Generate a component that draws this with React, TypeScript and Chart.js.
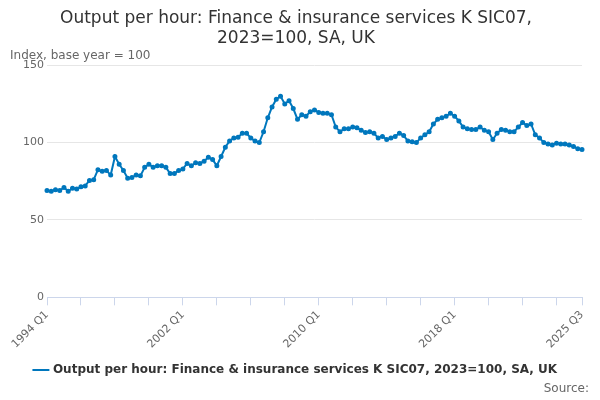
import React, { useEffect, useRef } from "react";
import { Chart, registerables } from "chart.js";
Chart.register(...registerables);

const years: number[] = [];
for (let y = 1994; y <= 2025; y++) years.push(y);
const labels: string[] = [];
years.forEach((y) => [1, 2, 3, 4].forEach((q) => { if (!(y === 2025 && q === 4)) labels.push(`${y} Q${q}`); }));

const values = [
  69, 68.5, 69.5, 69,
  71, 68.5, 70.5, 70,
  71.5, 72, 75.5, 76,
  82.5, 81.5, 82, 79,
  91, 86, 82, 77,
  77.5, 79, 78.5, 84,
  86, 84, 85, 85,
  84, 80, 80, 82,
  83, 86.5, 85, 87,
  86.5, 88, 90.5, 89,
  85, 91, 97, 101,
  103, 103.5, 106, 106,
  103, 101, 100, 107,
  116, 123, 128, 130,
  125, 127, 122, 115,
  118, 117, 120, 121,
  119.5, 119, 119, 118,
  110, 107, 109, 109,
  110, 109.5, 108, 106.5,
  107, 106, 103, 104,
  102, 103, 104, 106,
  104.5, 101, 100.5, 100,
  103, 105, 107, 112,
  115, 116, 117, 119,
  117, 114, 110, 109,
  108.5, 108.5, 110, 108,
  107, 102, 106, 108.5,
  108, 107, 107, 110,
  113, 111, 112, 105,
  103, 100, 99, 98.5,
  99.5, 99, 99, 98.5,
  97.5, 96, 95.5,
];

const seriesName = "Output per hour: Finance & insurance services K SIC07, 2023=100, SA, UK";
const FONT = "'DejaVu Sans', sans-serif";
const COLOR = "#0077bd";

export default function App() {
  const ref = useRef<HTMLCanvasElement>(null);
  useEffect(() => {
    const last = labels.length - 1;
    const chart = new Chart(ref.current!, {
      type: "line",
      data: {
        labels,
        datasets: [{
          label: seriesName, data: values, borderColor: COLOR, backgroundColor: COLOR,
          borderWidth: 2, pointRadius: 1.5, pointHoverRadius: 2, tension: 0,
        }],
      },
      options: {
        animation: false, responsive: false,
        layout: { padding: { left: 10, right: 18, top: 0, bottom: 14 } },
        plugins: {
          title: {
            display: true, text: ["Output per hour: Finance & insurance services K SIC07,", "2023=100, SA, UK"],
            font: { family: FONT, size: 17, weight: "normal" }, color: "#333", padding: { top: 8, bottom: 0 },
          },
          subtitle: {
            display: true, text: "Index, base year = 100", align: "start",
            font: { family: FONT, size: 12 }, color: "#666", padding: { top: 0, bottom: 2 },
          },
          legend: {
            position: "bottom",
            labels: { font: { family: FONT, size: 12, weight: "bold" }, color: "#333", usePointStyle: true, pointStyle: "line", boxWidth: 20 },
          },
          tooltip: { enabled: false },
        },
        scales: {
          x: {
            grid: {
              drawOnChartArea: false, tickLength: 8,
              tickColor: (c: any) => (c.index % 8 === 0 || c.index === last ? "#ccd6eb" : "rgba(0,0,0,0)"),
            },
            border: { color: "#ccd6eb" },
            ticks: {
              autoSkip: false, maxRotation: 45, minRotation: 45, color: "#666", font: { family: FONT, size: 11 },
              callback: (_v: any, i: number) => (i % 32 === 0 || i === last ? labels[i] : ""),
            },
          },
          y: {
            min: 0, max: 150,
            ticks: { stepSize: 50, color: "#666", font: { family: FONT, size: 11 } },
            grid: { color: "#e6e6e6", drawTicks: false },
            border: { display: false },
            afterFit: (s: any) => { s.width = 37; },
          },
        },
      },
    } as any);
    return () => chart.destroy();
  }, []);
  return (
    <div style={{ position: "fixed", left: 0, top: 0, width: 600, height: 400, background: "#fff" }}>
      <canvas ref={ref} width={600} height={400} />
      <div style={{ position: "absolute", right: 11, top: 381, fontFamily: FONT, fontSize: 12, color: "#666" }}>Source:</div>
    </div>
  );
}
